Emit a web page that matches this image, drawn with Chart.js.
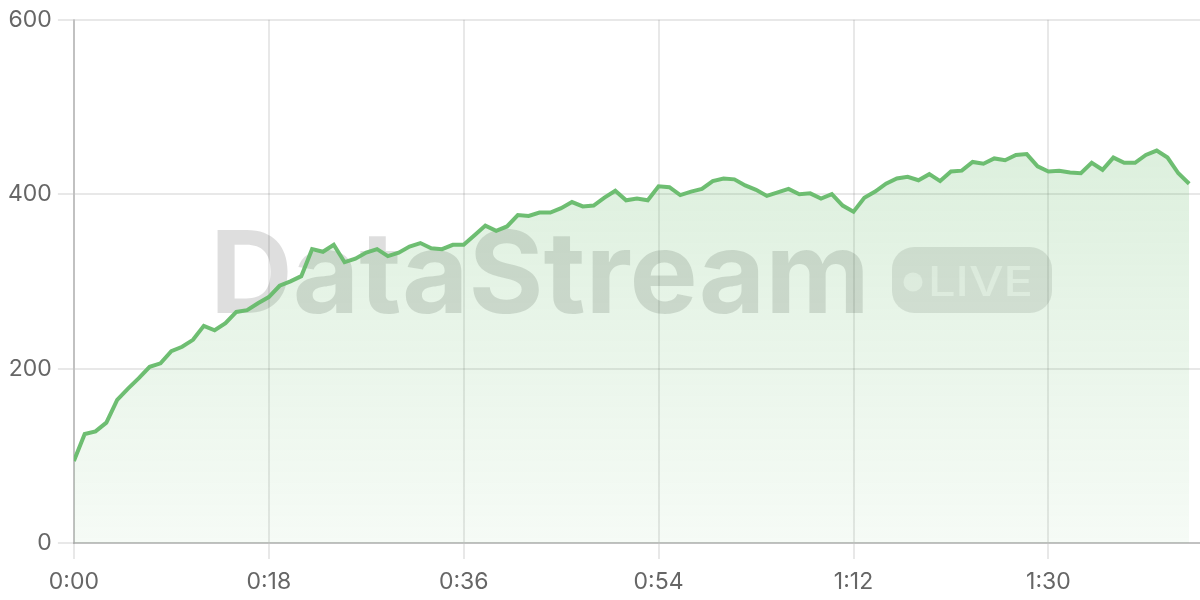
<!DOCTYPE html>
<html>
<head>
<meta charset="utf-8">
<script src="https://cdn.jsdelivr.net/npm/chart.js@4"></script>
<style>
  html, body { margin: 0; padding: 0; background: #fff; }
  #wrap { width: 1200px; height: 600px; }
</style>
</head>
<body>
<div id="wrap"><canvas id="liveChart"></canvas></div>
<script>
// one reading per minute
const values = [
  94, 125, 128, 138, 164, 177, 189, 202, 206, 220,
  225, 233, 249, 244, 252, 265, 267, 275, 282, 295,
  300, 306, 337, 334, 342, 322, 326, 333, 337, 329,
  333, 340, 344, 338, 337, 342, 342, 353, 364, 358,
  363, 376, 375, 379, 379, 384, 391, 386, 387, 396,
  404, 393, 395, 393, 409, 408, 399, 403, 406, 415,
  418, 417, 410, 405, 398, 402, 406, 400, 401, 395,
  400, 387, 380, 396, 403, 412, 418, 420, 416, 423,
  415, 426, 427, 437, 435, 441, 439, 445, 446, 432,
  426, 427, 425, 424, 436, 428, 442, 436, 436, 445,
  450, 442, 424, 412
];
const xTickValues = [0, 18, 36, 54, 72, 90];
const xTickLabels = ["0:00", "0:18", "0:36", "0:54", "1:12", "1:30"];
const yTickValues = [0, 200, 400, 600];

const points = values.map((v, i) => ({ x: i, y: v }));

const watermark = {
  id: "watermark",
  beforeDatasetsDraw(chart) {
    const ctx = chart.ctx;
    ctx.save();
    // big wordmark
    ctx.font = "bold 114px Inter, 'Liberation Sans', sans-serif";
    ctx.textBaseline = "alphabetic";
    ctx.fillStyle = "rgba(0, 0, 0, 0.13)";
    const w = ctx.measureText("DataStream").width;
    ctx.translate(210, 313);
    ctx.scale(660 / w, 1);
    ctx.fillText("DataStream", 0, 0);
    ctx.restore();

    // LIVE pill
    ctx.save();
    ctx.fillStyle = "rgba(0, 0, 0, 0.1)";
    ctx.beginPath();
    ctx.roundRect(892, 247, 160, 66, 22);
    ctx.fill();
    ctx.fillStyle = "rgba(255, 255, 255, 0.6)";
    ctx.beginPath();
    ctx.arc(913, 282, 9.5, 0, Math.PI * 2);
    ctx.fill();
    ctx.font = "500 41px Inter, 'Liberation Sans', sans-serif";
    const lw = ctx.measureText("LIVE").width;
    ctx.translate(928, 296);
    ctx.scale(105 / lw, 1);
    ctx.fillText("LIVE", 0, 0);
    ctx.restore();
  },
};

const ctx = document.getElementById("liveChart").getContext("2d");
new Chart(ctx, {
  type: "line",
  data: {
    datasets: [
      {
        data: points,
        borderColor: "rgba(102, 187, 106, 0.95)",
        borderWidth: 4,
        pointRadius: 0,
        tension: 0,
        fill: true,
        backgroundColor: (c) => {
          const area = c.chart.chartArea;
          if (!area) return "rgba(76, 175, 80, 0.15)";
          const g = c.chart.ctx.createLinearGradient(0, area.top, 0, area.bottom);
          g.addColorStop(0, "rgba(76, 175, 80, 0.24)");
          g.addColorStop(1, "rgba(76, 175, 80, 0.05)");
          return g;
        },
      },
    ],
  },
  options: {
    responsive: true,
    maintainAspectRatio: false,
    animation: false,
    layout: {
      padding: { top: 8, right: 0, bottom: 0, left: 2 },
    },
    scales: {
      x: {
        type: "linear",
        min: 0,
        max: 104,
        afterBuildTicks: (scale) => {
          scale.ticks = xTickValues.map((v) => ({ value: v }));
        },
        afterFit: (scale) => {
          scale.height = 57;
        },
        ticks: {
          color: "#666",
          padding: 12,
          maxRotation: 0,
          font: { family: "Inter", size: 23, lineHeight: 1 },
          callback: (v) => xTickLabels[xTickValues.indexOf(v)],
        },
        grid: { color: "rgba(0,0,0,0.09)", lineWidth: 2, tickLength: 16 },
        border: { color: "rgba(0,0,0,0.17)", width: 2 },
      },
      y: {
        min: 0,
        max: 600,
        afterBuildTicks: (scale) => {
          scale.ticks = yTickValues.map((v) => ({ value: v }));
        },
        ticks: {
          color: "#666",
          padding: 6,
          font: { family: "Inter", size: 23 },
        },
        grid: { color: "rgba(0,0,0,0.09)", lineWidth: 2, tickLength: 16 },
        border: { color: "rgba(0,0,0,0.17)", width: 2 },
      },
    },
    plugins: {
      legend: { display: false },
      tooltip: { enabled: false },
    },
  },
  plugins: [watermark],
});
</script>
</body>
</html>
